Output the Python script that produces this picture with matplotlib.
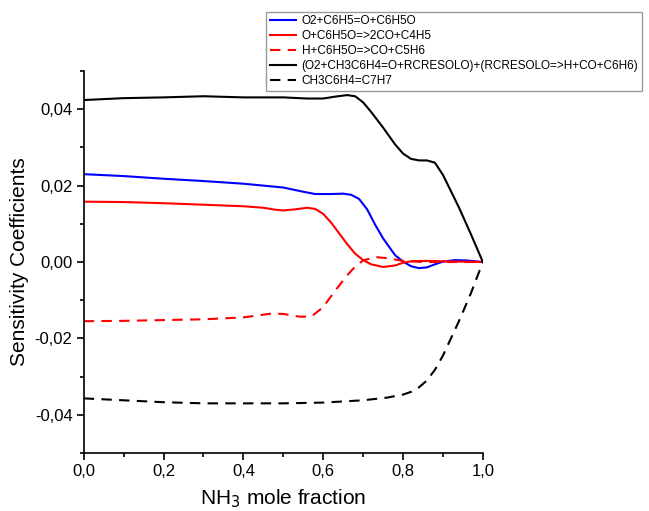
import matplotlib
matplotlib.use("Agg")
import matplotlib.pyplot as plt
from matplotlib import ticker

plt.rcParams['font.family'] = ['Liberation Sans', 'DejaVu Sans']

labels = [
    'O2+C6H5=O+C6H5O',
    'O+C6H5O=>2CO+C4H5',
    'H+C6H5O=>CO+C5H6',
    '(O2+CH3C6H4=O+RCRESOLO)+(RCRESOLO=>H+CO+C6H6)',
    'CH3C6H4=C7H7',
]

x_blue = [0.0, 0.1, 0.2, 0.3, 0.4, 0.5, 0.55, 0.58, 0.62, 0.65, 0.67, 0.69, 0.71, 0.73,
          0.75, 0.78, 0.8, 0.82, 0.84, 0.86, 0.88, 0.9, 0.93, 0.96, 1.0]
y_blue = [0.023, 0.0225, 0.0218, 0.0212, 0.0205, 0.0195, 0.0184, 0.0178, 0.0178, 0.0179,
          0.0176, 0.0165, 0.0138, 0.0098, 0.0062, 0.0018, 0.0001, -0.0011, -0.0016, -0.0014,
          -0.0006, 0.0001, 0.0005, 0.0004, 0.0]

x_red = [0.0, 0.1, 0.2, 0.3, 0.4, 0.45, 0.48, 0.5, 0.53, 0.56, 0.58, 0.6, 0.62, 0.64,
         0.66, 0.68, 0.7, 0.72, 0.75, 0.78, 0.8, 0.82, 0.86, 0.9, 1.0]
y_red = [0.0158, 0.0157, 0.0154, 0.015, 0.0146, 0.0142, 0.0137, 0.0135, 0.0138, 0.0142,
         0.0139, 0.0126, 0.0103, 0.0075, 0.0047, 0.0022, 0.0005, -0.0006, -0.0013, -0.0009,
         -0.0002, 0.0002, 0.0003, 0.0002, 0.0]

x_red_d = [0.0, 0.1, 0.2, 0.3, 0.4, 0.47, 0.5, 0.54, 0.57, 0.6, 0.63, 0.66, 0.68, 0.7,
           0.73, 0.76, 0.8, 0.85, 1.0]
y_red_d = [-0.0155, -0.0154, -0.0152, -0.015, -0.0145, -0.0135, -0.0136, -0.0143, -0.0143,
           -0.0118, -0.0075, -0.0035, -0.0012, 0.0004, 0.0013, 0.001, 0.0003, 0.0, 0.0]

x_black = [0.0, 0.1, 0.2, 0.3, 0.4, 0.5, 0.56, 0.6, 0.63, 0.66, 0.68, 0.7, 0.72, 0.75,
           0.78, 0.8, 0.82, 0.84, 0.86, 0.88, 0.9, 0.94, 0.97, 1.0]
y_black = [0.0424, 0.0429, 0.0431, 0.0434, 0.0431, 0.0431, 0.0428, 0.0428, 0.0433, 0.0437,
           0.0434, 0.0418, 0.0393, 0.0352, 0.0308, 0.0284, 0.027, 0.0266, 0.0266, 0.026,
           0.0228, 0.0143, 0.0073, 0.0]

x_black_d = [0.0, 0.1, 0.2, 0.3, 0.4, 0.5, 0.6, 0.7, 0.76, 0.8, 0.82, 0.84, 0.86, 0.88,
             0.9, 0.94, 0.97, 1.0]
y_black_d = [-0.0357, -0.0362, -0.0367, -0.037, -0.037, -0.037, -0.0368, -0.0362, -0.0355,
             -0.0347, -0.034, -0.0328, -0.031, -0.0282, -0.0245, -0.0155, -0.0082, 0.0]

fig = plt.figure(figsize=(6.49, 5.11), dpi=100)
ax = fig.add_axes([0.129, 0.1135, 0.615, 0.7475])

lw = 1.5
dash = (0, (5, 3.5))
ax.plot(x_blue, y_blue, color='#0000ff', lw=lw, label=labels[0])
ax.plot(x_red, y_red, color='#ff0000', lw=lw, label=labels[1])
ax.plot(x_red_d, y_red_d, color='#ff0000', lw=lw, ls=dash, label=labels[2])
ax.plot(x_black, y_black, color='black', lw=lw, label=labels[3])
ax.plot(x_black_d, y_black_d, color='black', lw=lw, ls=dash, label=labels[4])

ax.set_xlim(0, 1.0)
ax.set_ylim(-0.05, 0.05)
ax.spines['top'].set_visible(False)
ax.spines['right'].set_visible(False)
for s in ('left', 'bottom'):
    ax.spines[s].set_linewidth(1.2)

ax.xaxis.set_major_locator(ticker.MultipleLocator(0.2))
ax.xaxis.set_minor_locator(ticker.MultipleLocator(0.1))
ax.yaxis.set_major_locator(ticker.FixedLocator([-0.04, -0.02, 0.0, 0.02, 0.04]))
ax.yaxis.set_minor_locator(ticker.MultipleLocator(0.01))
ax.xaxis.set_major_formatter(ticker.FuncFormatter(lambda v, p: '{:.1f}'.format(v).replace('.', ',')))
ax.yaxis.set_major_formatter(ticker.FuncFormatter(
    lambda v, p: '{:.2f}'.format(0.0 if abs(v) < 1e-9 else v).replace('.', ',')))
ax.tick_params(which='major', direction='out', length=5, width=1.2, labelsize=12, pad=3)
ax.tick_params(which='minor', direction='out', length=3, width=1.2)

ax.set_xlabel('NH$_3$ mole fraction', fontsize=15, labelpad=6)
ax.set_ylabel('Sensitivity Coefficients', fontsize=15, labelpad=4)

leg = fig.legend(loc='upper left', bbox_to_anchor=(0.41, 0.977), bbox_transform=fig.transFigure,
                 fontsize=8.5, frameon=True, fancybox=False, borderaxespad=0,
                 handlelength=2.2, handletextpad=0.5, labelspacing=0.25, borderpad=0.3)
leg.get_frame().set_edgecolor('#808080')
leg.get_frame().set_linewidth(1.0)

fig.savefig('out.png', dpi=100)
